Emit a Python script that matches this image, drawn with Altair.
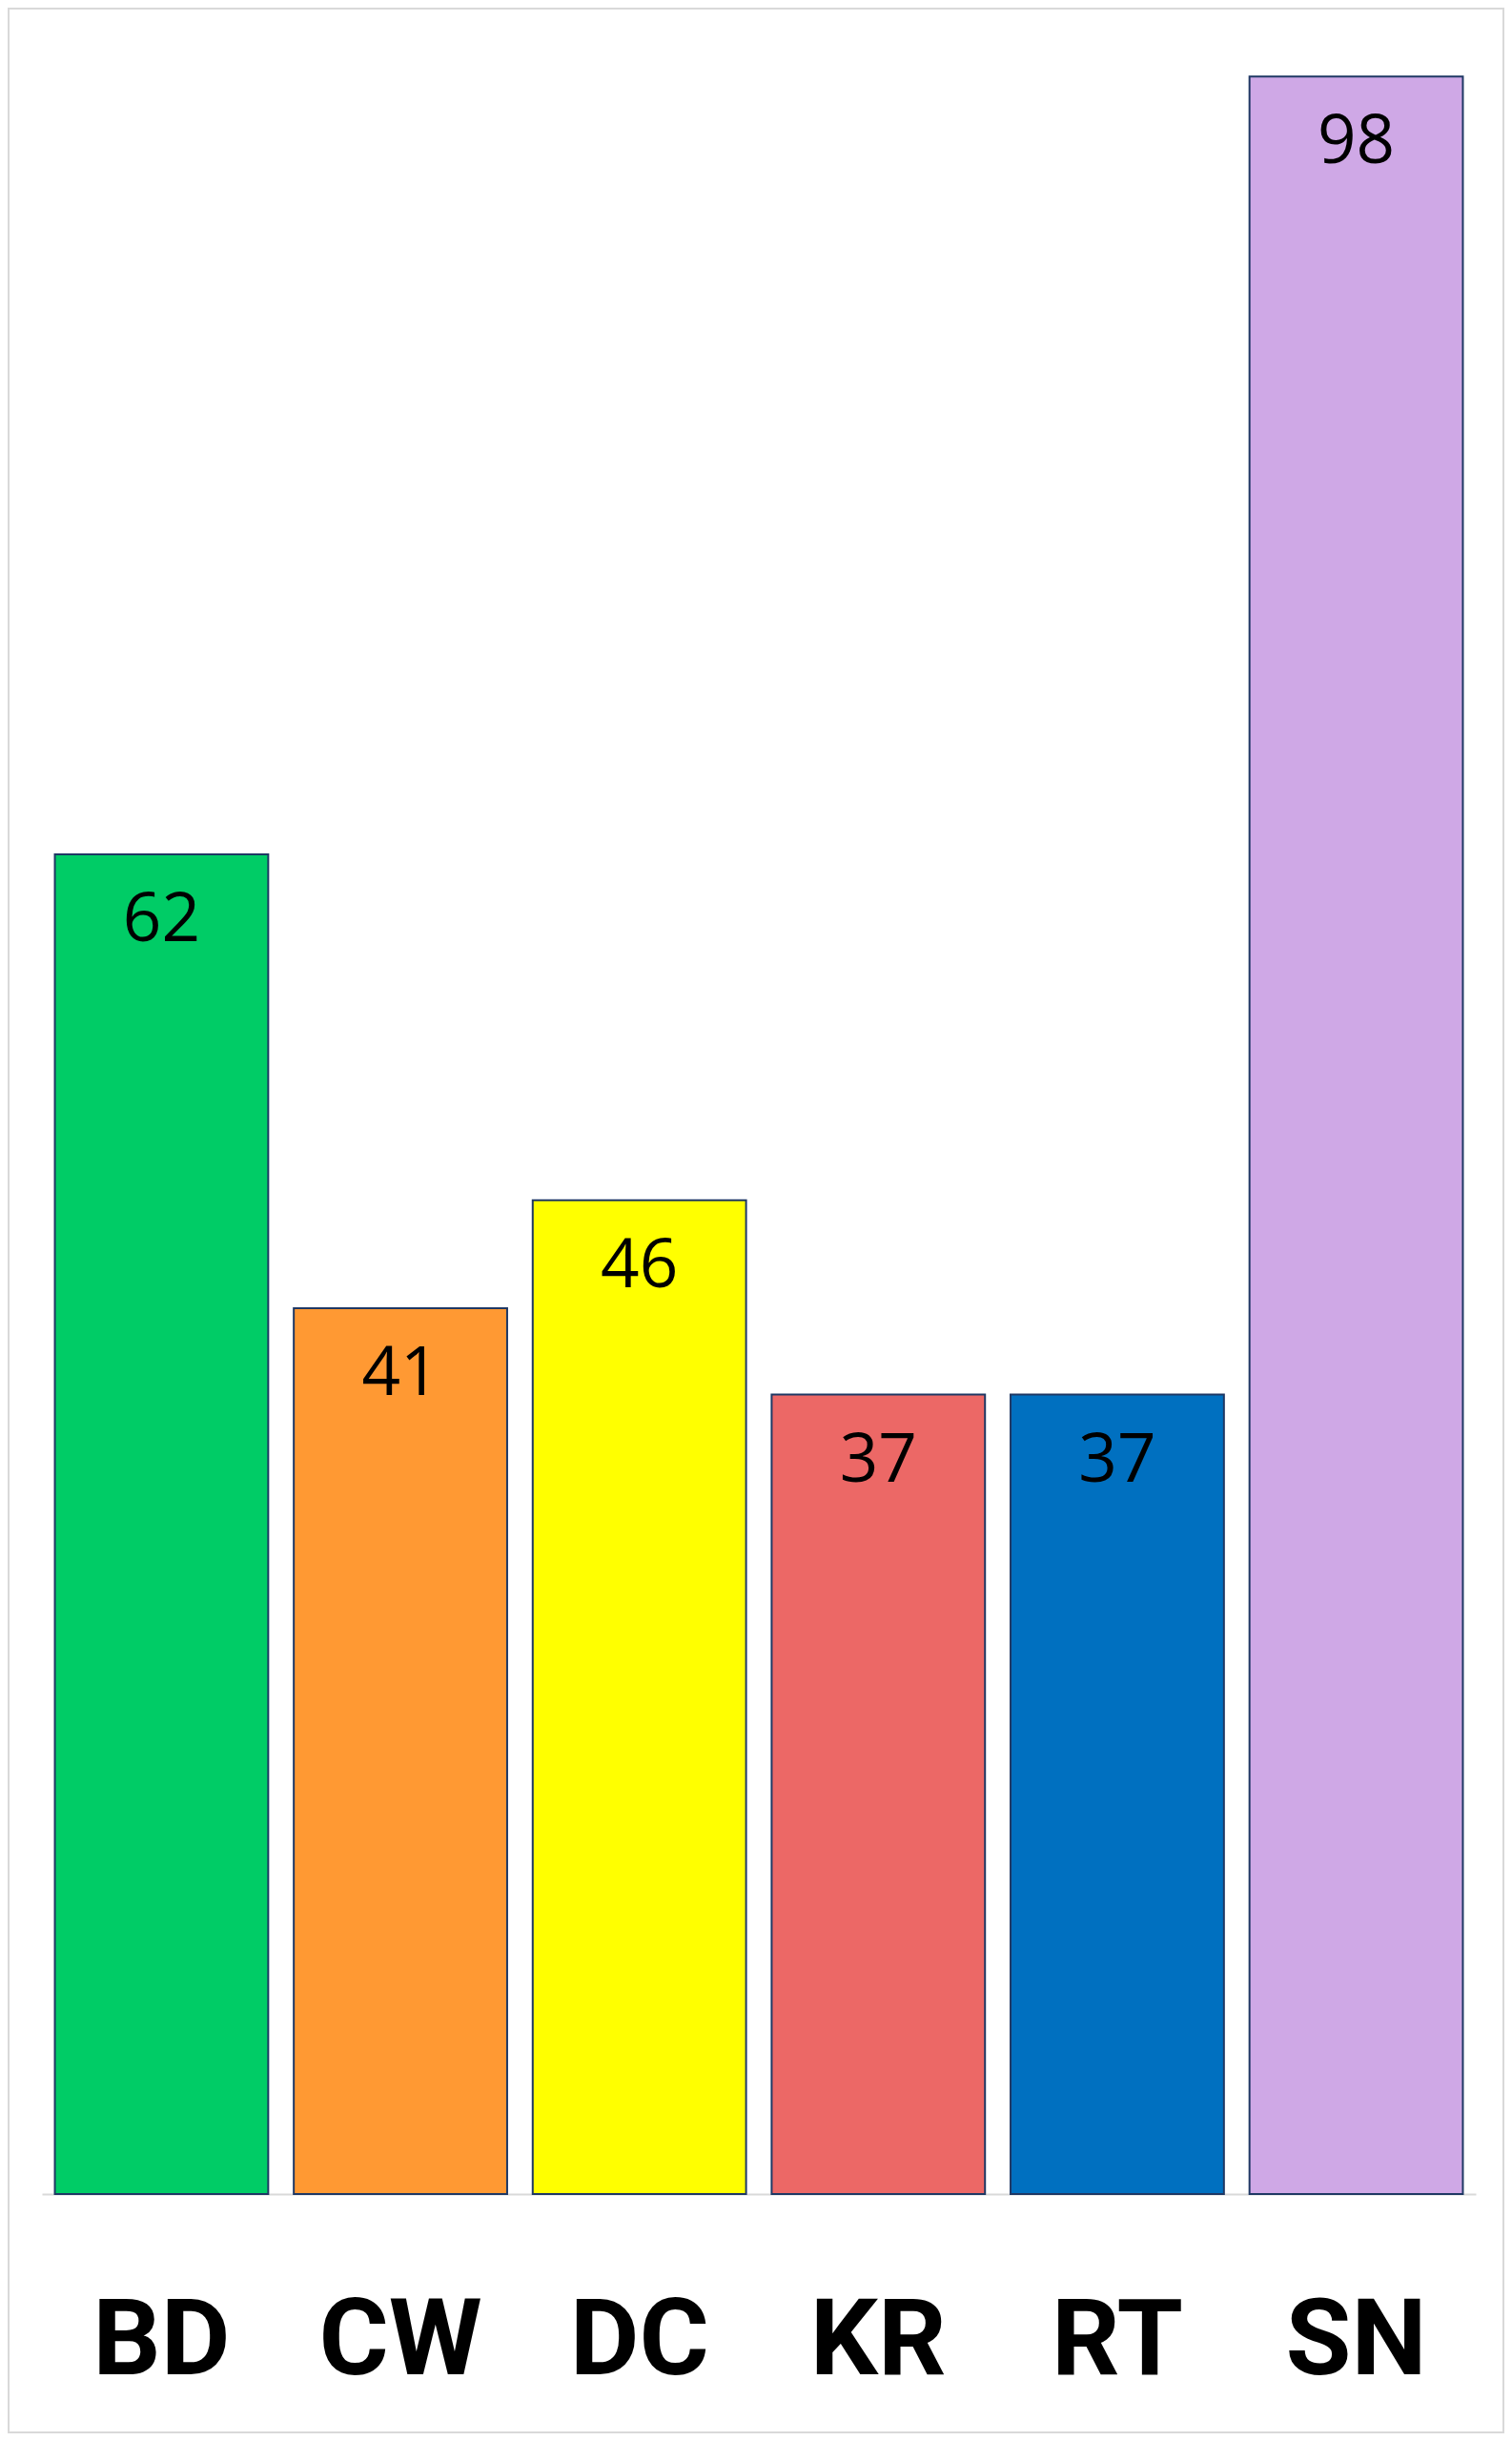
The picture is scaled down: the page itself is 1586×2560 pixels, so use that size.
import altair as alt
import pandas as pd

categories = ["BD", "CW", "DC", "KR", "RT", "SN"]
values = [62, 41, 46, 37, 37, 98]
colors = ["#00CC66", "#FF9933", "#FFFF00", "#EC6866", "#0070C0", "#CFA8E6"]

df = pd.DataFrame({"cat": categories, "val": values, "col": colors})

W, H = 1504, 2266
PAD = {"left": 36, "top": 27, "right": 30, "bottom": 251}

x = alt.X(
    "cat:N",
    sort=categories,
    scale=alt.Scale(paddingInner=0.107, paddingOuter=0.054),
    axis=alt.Axis(
        title=None,
        labelAngle=0,
        ticks=False,
        tickSize=0,
        domainColor="#D9D9D9",
        domainWidth=2,
        labelFont="Roboto",
        labelFontWeight="bold",
        labelFontSize=112,
        labelColor="#000000",
        labelPadding=100,
        labelLimit=0,
    ),
)
y = alt.Y("val:Q", scale=alt.Scale(domain=[0, 100], nice=False), axis=None)

bars = alt.Chart(df).mark_bar(stroke="#1F3864", strokeWidth=2).encode(
    x=x, y=y, color=alt.Color("col:N", scale=None)
)

labels = alt.Chart(df).mark_text(
    baseline="top", dy=35, font="Open Sans", fontSize=71, color="#000000"
).encode(x=alt.X("cat:N", sort=categories), y="val:Q", text="val:Q")

frame = pd.DataFrame({"k": [0]})
border = alt.Chart(frame).mark_rect(
    fill="transparent", stroke="#D9D9D9", strokeWidth=2
).encode(
    x=alt.value(-PAD["left"] + 1),
    x2=alt.value(W + PAD["right"] - 1),
    y=alt.value(-PAD["top"] + 1),
    y2=alt.value(H + PAD["bottom"] - 1),
)

chart = (
    alt.layer(bars, labels, border)
    .properties(width=W, height=H, padding=PAD, autosize=alt.AutoSizeParams(type="none"),
                background="white")
    .configure_view(strokeWidth=0, stroke=None)
)

chart.save("out.html", embed_options={"renderer": "svg", "actions": False})
